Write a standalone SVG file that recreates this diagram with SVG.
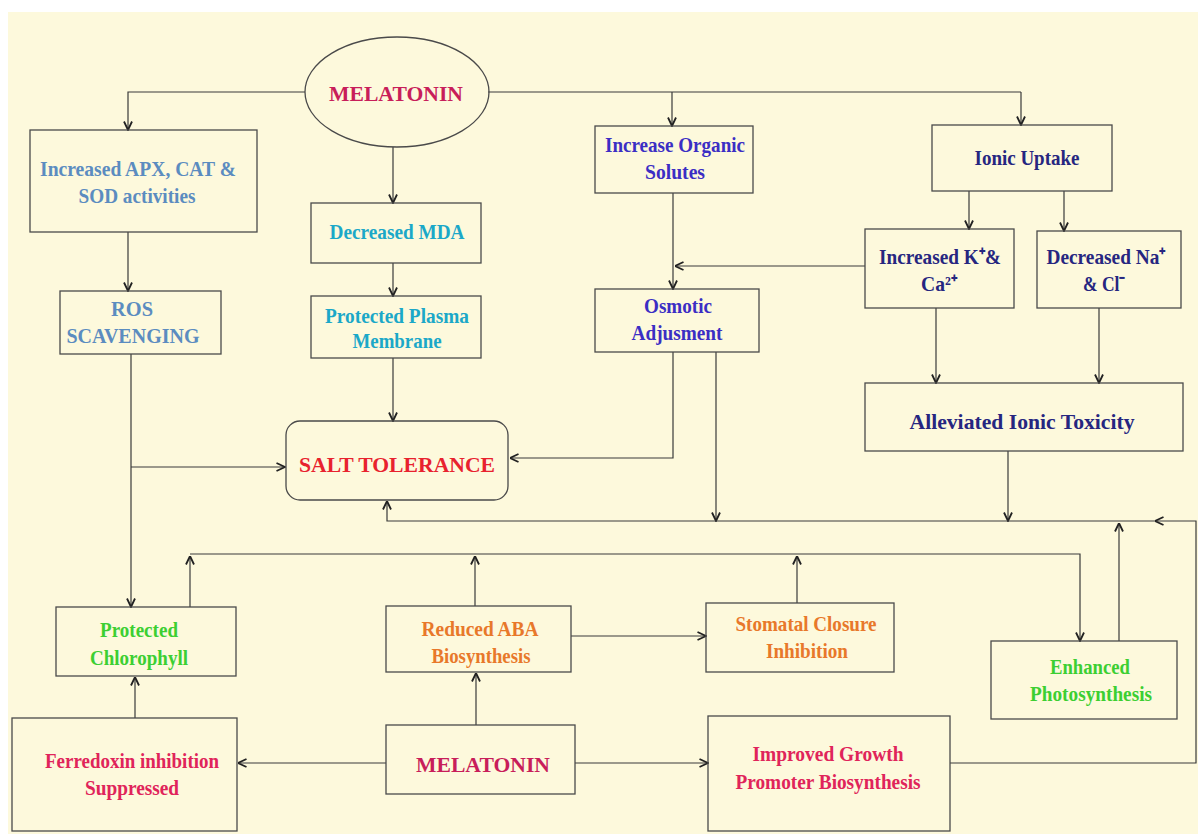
<svg xmlns="http://www.w3.org/2000/svg" width="1198" height="834" viewBox="0 0 1198 834">
<defs>
<marker id="arr" viewBox="0 0 10 10" refX="9.5" refY="5" markerWidth="10" markerHeight="10" markerUnits="userSpaceOnUse" orient="auto">
<path d="M1,1 L9.5,5 L1,9" fill="none" stroke="#222" stroke-width="1.8"/>
</marker>
<style>
.bx{fill:none;stroke:#4a4a4a;stroke-width:1.3}
.ln{fill:none;stroke:#3a3a3a;stroke-width:1.2}
.a{marker-end:url(#arr)}
text{font-family:"Liberation Serif","Times New Roman",serif;font-weight:bold;text-anchor:middle;font-size:22px}
.steel{fill:#5b8cc0}
.cyan{fill:#1ba8c8}
.violet{fill:#3b2ec4}
.navy{fill:#262680}
.green{fill:#3ccf32}
.orange{fill:#e8782a}
.crim{fill:#e0245a}
.mel{fill:#c81e5a}
.red{fill:#e8222e}
</style>
</defs>
<rect x="0" y="0" width="1198" height="834" fill="#ffffff"/>
<rect x="8" y="12" width="1190" height="822" fill="#fdf9dc"/>

<g id="connectors">
<path class="ln a" d="M305,92 H128 V130"/>
<path class="ln" d="M488,92 H1021"/>
<path class="ln a" d="M1021,92 V125"/>
<path class="ln a" d="M672,92 V126"/>
<path class="ln a" d="M393,147 V203"/>
<path class="ln a" d="M128,232 V291"/>
<path class="ln a" d="M393,263 V296"/>
<path class="ln a" d="M393,358 V421"/>
<path class="ln a" d="M131,354 V607"/>
<path class="ln a" d="M131,467 H285"/>
<path class="ln a" d="M673,193 V289"/>
<path class="ln a" d="M865,266 H675"/>
<path class="ln a" d="M969,191 V229"/>
<path class="ln a" d="M1064,191 V231"/>
<path class="ln a" d="M673,352 V458 H510"/>
<path class="ln a" d="M716,352 V521"/>
<path class="ln a" d="M936,308 V383"/>
<path class="ln a" d="M1099,308 V383"/>
<path class="ln a" d="M1008,451 V521"/>
<path class="ln a" d="M950,763 H1196 V521 H1155"/>
<path class="ln a" d="M1155,521 H387 V501"/>
<path class="ln a" d="M1119,641 V523"/>
<path class="ln a" d="M190,607 V556"/>
<path class="ln a" d="M190,554 H1080 V641"/>
<path class="ln a" d="M475,606 V556"/>
<path class="ln a" d="M797,603 V556"/>
<path class="ln a" d="M571,636 H706"/>
<path class="ln a" d="M135,718 V677"/>
<path class="ln a" d="M476,725 V673"/>
<path class="ln a" d="M386,763 H238"/>
<path class="ln a" d="M575,763 H708"/>
</g>

<g id="melatonin-top">
<ellipse class="bx" cx="397" cy="92" rx="92" ry="55"/>
<text class="mel" x="396" y="101" font-size="28" textLength="134" lengthAdjust="spacingAndGlyphs">MELATONIN</text>
</g>
<g id="antioxidant">
<rect class="bx" x="30" y="130" width="227" height="102"/>
<text class="steel" x="138" y="176" textLength="196" lengthAdjust="spacingAndGlyphs">Increased APX, CAT &amp;</text>
<text class="steel" x="137" y="203" textLength="117" lengthAdjust="spacingAndGlyphs">SOD activities</text>
</g>
<g id="ros">
<rect class="bx" x="60" y="291" width="161" height="63"/>
<text class="steel" x="132" y="316" textLength="42" lengthAdjust="spacingAndGlyphs">ROS</text>
<text class="steel" x="133" y="343" textLength="133" lengthAdjust="spacingAndGlyphs">SCAVENGING</text>
</g>
<g id="mda">
<rect class="bx" x="311" y="203" width="170" height="60"/>
<text class="cyan" x="397" y="239" textLength="135" lengthAdjust="spacingAndGlyphs">Decreased MDA</text>
</g>
<g id="membrane">
<rect class="bx" x="311" y="296" width="170" height="62"/>
<text class="cyan" x="397" y="323" textLength="144" lengthAdjust="spacingAndGlyphs">Protected Plasma</text>
<text class="cyan" x="397" y="348" textLength="89" lengthAdjust="spacingAndGlyphs">Membrane</text>
</g>
<g id="salt">
<rect class="bx" x="286" y="421" width="222" height="79" rx="14"/>
<text class="red" x="397" y="472" font-size="27" textLength="196" lengthAdjust="spacingAndGlyphs">SALT TOLERANCE</text>
</g>
<g id="solutes">
<rect class="bx" x="595" y="126" width="158" height="67"/>
<text class="violet" x="675" y="152" textLength="140" lengthAdjust="spacingAndGlyphs">Increase Organic</text>
<text class="violet" x="675" y="179" textLength="60" lengthAdjust="spacingAndGlyphs">Solutes</text>
</g>
<g id="osmotic">
<rect class="bx" x="595" y="289" width="164" height="63"/>
<text class="violet" x="678" y="313" textLength="68" lengthAdjust="spacingAndGlyphs">Osmotic</text>
<text class="violet" x="677" y="340" textLength="91" lengthAdjust="spacingAndGlyphs">Adjusment</text>
</g>
<g id="ionic">
<rect class="bx" x="932" y="125" width="180" height="66"/>
<text class="navy" x="1027" y="165" textLength="105" lengthAdjust="spacingAndGlyphs">Ionic Uptake</text>
</g>
<g id="kca">
<rect class="bx" x="865" y="229" width="149" height="79"/>
<text class="navy" x="940" y="264" textLength="122" lengthAdjust="spacingAndGlyphs">Increased K⁺&amp;</text>
<text class="navy" x="939" y="291" textLength="36" lengthAdjust="spacingAndGlyphs">Ca²⁺</text>
</g>
<g id="nacl">
<rect class="bx" x="1037" y="231" width="144" height="77"/>
<text class="navy" x="1106" y="264" textLength="119" lengthAdjust="spacingAndGlyphs">Decreased Na⁺</text>
<text class="navy" x="1104" y="291" textLength="42" lengthAdjust="spacingAndGlyphs">&amp; Cl⁻</text>
</g>
<g id="toxicity">
<rect class="bx" x="865" y="383" width="318" height="68"/>
<text class="navy" x="1022" y="429" font-size="25" textLength="225" lengthAdjust="spacingAndGlyphs">Alleviated Ionic Toxicity</text>
</g>
<g id="chlorophyll">
<rect class="bx" x="56" y="607" width="180" height="69"/>
<text class="green" x="139" y="637" textLength="78" lengthAdjust="spacingAndGlyphs">Protected</text>
<text class="green" x="139" y="665" textLength="98" lengthAdjust="spacingAndGlyphs">Chlorophyll</text>
</g>
<g id="aba">
<rect class="bx" x="386" y="606" width="185" height="66"/>
<text class="orange" x="480" y="636" textLength="117" lengthAdjust="spacingAndGlyphs">Reduced ABA</text>
<text class="orange" x="481" y="663" textLength="99" lengthAdjust="spacingAndGlyphs">Biosynthesis</text>
</g>
<g id="stomatal">
<rect class="bx" x="706" y="603" width="188" height="69"/>
<text class="orange" x="806" y="631" textLength="141" lengthAdjust="spacingAndGlyphs">Stomatal Closure</text>
<text class="orange" x="807" y="658" textLength="82" lengthAdjust="spacingAndGlyphs">Inhibition</text>
</g>
<g id="photosynthesis">
<rect class="bx" x="991" y="641" width="186" height="78"/>
<text class="green" x="1090" y="674" textLength="80" lengthAdjust="spacingAndGlyphs">Enhanced</text>
<text class="green" x="1091" y="701" textLength="122" lengthAdjust="spacingAndGlyphs">Photosynthesis</text>
</g>
<g id="ferredoxin">
<rect class="bx" x="12" y="718" width="225" height="113"/>
<text class="crim" x="132" y="768" textLength="174" lengthAdjust="spacingAndGlyphs">Ferredoxin inhibition</text>
<text class="crim" x="132" y="795" textLength="94" lengthAdjust="spacingAndGlyphs">Suppressed</text>
</g>
<g id="melatonin-bottom">
<rect class="bx" x="386" y="725" width="189" height="69"/>
<text class="mel" x="483" y="772" font-size="27" textLength="134" lengthAdjust="spacingAndGlyphs">MELATONIN</text>
</g>
<g id="growth">
<rect class="bx" x="708" y="716" width="242" height="115"/>
<text class="crim" x="828" y="761" textLength="151" lengthAdjust="spacingAndGlyphs">Improved Growth</text>
<text class="crim" x="828" y="789" textLength="185" lengthAdjust="spacingAndGlyphs">Promoter Biosynthesis</text>
</g>
</svg>
